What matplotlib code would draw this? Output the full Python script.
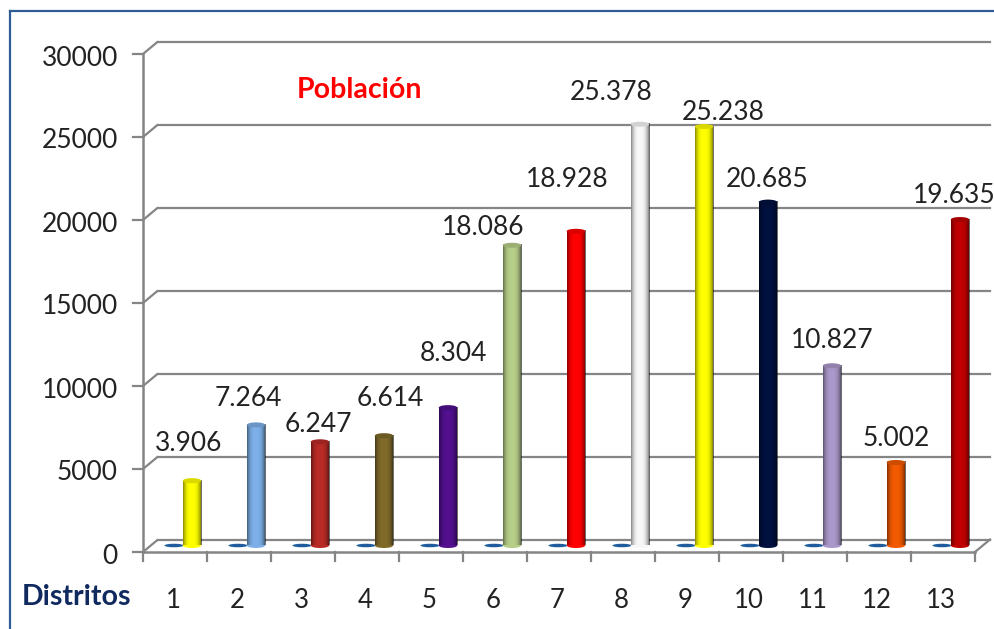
import numpy as np
import matplotlib
matplotlib.use("Agg")
import matplotlib.pyplot as plt
from matplotlib.patches import Ellipse
from matplotlib.lines import Line2D

# Population per district
districts = list(range(1, 14))
population = [3906, 7264, 6247, 6614, 8304, 18086, 18928, 25378, 25238, 20685, 10827, 5002, 19635]
empty_series = [0] * 13
bar_colors = ["#FFFF00", "#7DB0E8", "#B92B27", "#7F6A2A", "#52108F", "#B7CE88", "#FF0000",
              "#F7F7F7", "#FFFF00", "#00103F", "#AB98CA", "#F25A00", "#C00000"]
y_ticks = [0, 5000, 10000, 15000, 20000, 25000, 30000]
# Label displacement from the top of each bar, in pixels
label_shift = [(-3, 37), (-8, 26), (-2, 17), (6, 37), (6, 54), (-29, 18), (-9, 52),
               (-29, 32), (19, 14), (-1, 23), (0, 25), (0, 24), (-6, 24)]

AXIS_GREY = "#858585"
TEXT_COLOR = "#222222"
W, H = 995, 629

plt.rcParams["font.family"] = ["Lato", "DejaVu Sans"]
fig = plt.figure(figsize=(W / 100, H / 100), dpi=100, facecolor="white")
ax = fig.add_axes([143 / W, (H - 552) / H, 832 / W, 498 / H])
ax.set_xlim(0.5, 13.5)
ax.set_ylim(0, 30000)
ax.axis("off")

# Pixel sizes expressed in data units
px_x = 13 / 832
px_y = 30000 / 498
depth_x, depth_y = 15 * px_x, 12.5 * px_y
bar_w = 18.5 * px_x
bar_dx = 17 * px_x
bar_base = 6.5 * px_y
cap_h = 5 * px_y

# Back wall, side wall and floor lines
for tick in y_ticks:
    ax.plot([0.5, 0.5 + depth_x], [tick, tick + depth_y], color=AXIS_GREY, lw=1.6,
            clip_on=False, zorder=1, solid_capstyle="butt")
    ax.plot([0.5 + depth_x, 13.5 + depth_x], [tick + depth_y] * 2, color=AXIS_GREY, lw=1.6,
            clip_on=False, zorder=1)
    ax.plot([0.5 - 10 * px_x, 0.5], [tick, tick], color=AXIS_GREY, lw=1.6, clip_on=False, zorder=2)
    ax.text(0.5 - 25 * px_x, tick - 4 * px_y, str(tick), ha="right", va="center",
            fontsize=19, color=TEXT_COLOR, clip_on=False)

ax.plot([0.5, 0.5], [0, 30000], color=AXIS_GREY, lw=1.8, clip_on=False, zorder=2)
ax.plot([0.5, 13.5], [0, 0], color=AXIS_GREY, lw=1.8, clip_on=False, zorder=2)
ax.plot([13.5, 13.5 + depth_x], [0, depth_y], color=AXIS_GREY, lw=1.6, clip_on=False, zorder=2)

for edge in np.arange(0.5, 14.5):
    ax.plot([edge, edge], [0, -9 * px_y], color=AXIS_GREY, lw=1.6, clip_on=False, zorder=2)

# Horizontal shading that makes each bar read as a cylinder
u = np.linspace(-1, 1, 64)
shade_alpha = np.clip(np.abs(u + 0.05) ** 3 * 0.55, 0, 1)
shade = np.zeros((1, 64, 4))
shade[..., 3] = shade_alpha

for d, value, color in zip(districts, population, bar_colors):
    cx = d + bar_dx
    top = bar_base + value
    ax.add_patch(Ellipse((cx, bar_base), bar_w, cap_h, fc=color, ec="none", zorder=4))
    ax.bar(cx, value, width=bar_w, bottom=bar_base, color=color, linewidth=0, zorder=4)
    ax.imshow(shade, extent=(cx - bar_w / 2, cx + bar_w / 2, bar_base, top),
              aspect="auto", zorder=5, interpolation="bilinear")
    ax.add_patch(Ellipse((cx, top), bar_w, cap_h, fc=color, ec="none", zorder=6))
    ax.add_patch(Ellipse((cx, top), bar_w, cap_h, fc="#000000", alpha=0.15, ec="none", zorder=6.1))

# Second series sits at zero and shows only as flat discs on the floor
for d, value in zip(districts, empty_series):
    ax.add_patch(Ellipse((d - 1 * px_x, bar_base + value), 19 * px_x, 3.5 * px_y,
                         fc="#1F5C9E", ec="none", zorder=3))

ax.set_xlim(0.5, 13.5)
ax.set_ylim(0, 30000)

# Value labels use a dot as the thousands separator
for d, value, (sx, sy) in zip(districts, population, label_shift):
    ax.annotate(f"{value:,}".replace(",", "."), (d + bar_dx, bar_base + value),
                xytext=(sx * 0.72, sy * 0.72), textcoords="offset points",
                ha="center", va="center", fontsize=19, color=TEXT_COLOR,
                annotation_clip=False, zorder=8)

# Category labels
for d in districts:
    ax.text(d - 2 * px_x, -49 * px_y, str(d), ha="center", va="center", fontsize=18.5,
            color=TEXT_COLOR, clip_on=False)

fig.text(76 / W, 1 - 597 / H, "Distritos", ha="center", va="center", fontsize=20.5,
         fontweight="bold", color="#10295E")
fig.text(360 / W, 1 - 90 / H, "Población", ha="center", va="center", fontsize=20.5,
         fontweight="bold", color="#FF0000")

# Blue frame along the top and left
fig.add_artist(Line2D([9.5 / W, 9.5 / W], [0, 1 - 11 / H], color="#2F5C95", lw=1.6))
fig.add_artist(Line2D([9.5 / W, 1], [1 - 11 / H, 1 - 11 / H], color="#2F5C95", lw=1.6))

fig.savefig("out.png", dpi=100, facecolor="white")
